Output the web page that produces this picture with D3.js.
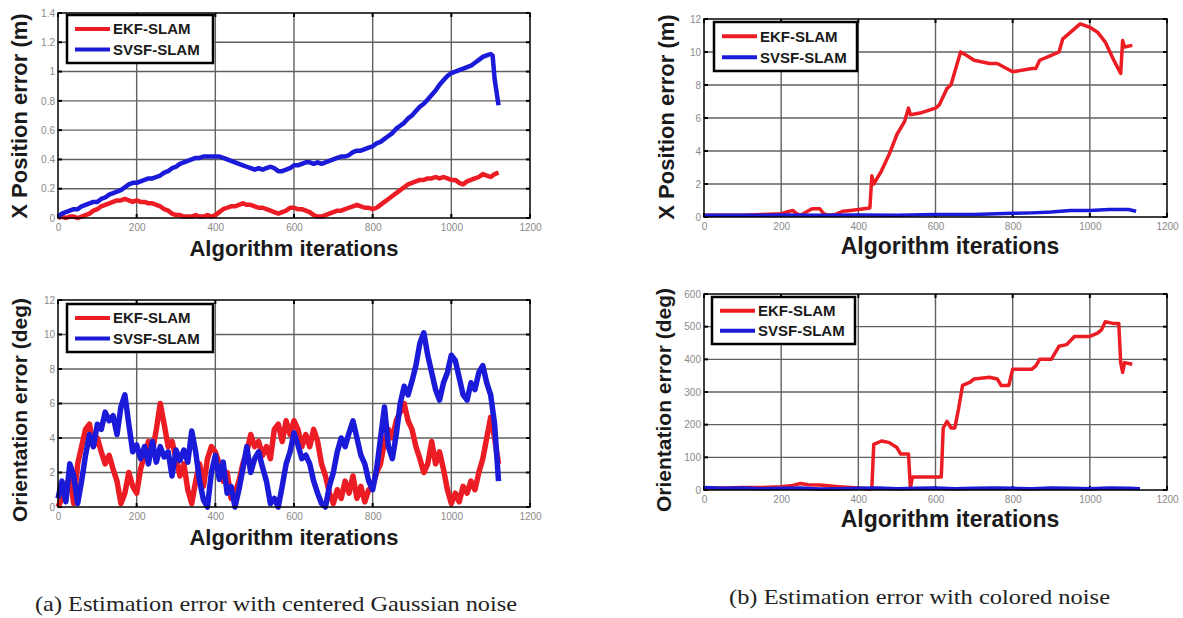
<!DOCTYPE html>
<html>
<head>
<meta charset="utf-8">
<script src="https://cdn.jsdelivr.net/npm/d3@7"></script>
<style>
  body { margin: 0; background: #fff; }
  svg { display: block; }
</style>
</head>
<body>
<div id="chart"></div>
<script>
// axis ticks
const xTicks = [0, 200, 400, 600, 800, 1000, 1200];
const posTicksGauss = [0, 0.2, 0.4, 0.6, 0.8, 1, 1.2, 1.4];
const degTicksGauss = [0, 2, 4, 6, 8, 10, 12];
const posTicksColored = [0, 2, 4, 6, 8, 10, 12];
const degTicksColored = [0, 100, 200, 300, 400, 500, 600];
const seriesNames = ['EKF-SLAM', 'SVSF-SLAM'];
const captions = ['(a) Estimation error with centered Gaussian noise', '(b) Estimation error with colored noise'];

// (a) gaussian noise - X position error (m), [iteration, value]
const ekfPosGauss = [[0,0],[10,0.01],[20,0.0],[30,0.01],[40,0.01],[50,0.0],[60,0.01],[70,0.02],[80,0.03],[90,0.05],[100,0.06],[110,0.08],[120,0.09],[130,0.10],[140,0.11],[150,0.12],[160,0.12],[170,0.13],[180,0.12],[190,0.11],[200,0.12],[210,0.11],[220,0.11],[230,0.10],[240,0.10],[250,0.09],[260,0.08],[270,0.06],[280,0.05],[290,0.03],[300,0.02],[310,0.02],[320,0.01],[330,0.01],[340,0.01],[350,0.02],[360,0.01],[370,0.01],[380,0.02],[390,0.01],[400,0.02],[410,0.04],[420,0.06],[430,0.07],[440,0.08],[450,0.08],[460,0.09],[470,0.10],[480,0.09],[490,0.09],[500,0.08],[510,0.07],[520,0.07],[530,0.06],[540,0.05],[550,0.04],[560,0.03],[570,0.04],[580,0.05],[590,0.07],[600,0.07],[610,0.06],[620,0.06],[630,0.05],[640,0.04],[650,0.02],[660,0.01],[670,0.01],[680,0.02],[690,0.03],[700,0.04],[710,0.05],[720,0.05],[730,0.06],[740,0.07],[750,0.08],[760,0.09],[770,0.08],[780,0.07],[790,0.07],[800,0.06],[810,0.07],[820,0.09],[830,0.11],[840,0.13],[850,0.15],[860,0.17],[870,0.19],[880,0.21],[890,0.23],[900,0.24],[910,0.25],[920,0.26],[930,0.26],[940,0.27],[950,0.27],[960,0.28],[970,0.27],[980,0.28],[990,0.27],[1000,0.26],[1010,0.26],[1020,0.24],[1030,0.23],[1040,0.25],[1050,0.26],[1060,0.27],[1070,0.28],[1080,0.30],[1090,0.29],[1100,0.28],[1110,0.30],[1120,0.31]];
const svsfPosGauss = [[0,0.01],[10,0.03],[20,0.04],[30,0.05],[40,0.06],[50,0.06],[60,0.08],[70,0.09],[80,0.10],[90,0.11],[100,0.11],[110,0.13],[120,0.14],[130,0.16],[140,0.17],[150,0.18],[160,0.19],[170,0.21],[180,0.23],[190,0.24],[200,0.24],[210,0.25],[220,0.26],[230,0.27],[240,0.27],[250,0.28],[260,0.29],[270,0.31],[280,0.32],[290,0.34],[300,0.35],[310,0.37],[320,0.38],[330,0.39],[340,0.40],[350,0.41],[360,0.41],[370,0.42],[380,0.42],[390,0.42],[400,0.42],[410,0.42],[420,0.41],[430,0.40],[440,0.39],[450,0.38],[460,0.37],[470,0.36],[480,0.35],[490,0.34],[500,0.33],[510,0.34],[520,0.33],[530,0.34],[540,0.35],[550,0.34],[560,0.32],[570,0.32],[580,0.33],[590,0.34],[600,0.36],[610,0.36],[620,0.37],[630,0.38],[640,0.38],[650,0.37],[660,0.38],[670,0.37],[680,0.38],[690,0.39],[700,0.40],[710,0.41],[720,0.42],[730,0.42],[740,0.43],[750,0.45],[760,0.46],[770,0.46],[780,0.47],[790,0.48],[800,0.49],[810,0.51],[820,0.52],[830,0.54],[840,0.56],[850,0.58],[860,0.61],[870,0.63],[880,0.65],[890,0.68],[900,0.70],[910,0.73],[920,0.76],[930,0.78],[940,0.81],[950,0.84],[960,0.87],[970,0.91],[980,0.94],[990,0.97],[1000,0.99],[1010,1.00],[1020,1.01],[1030,1.02],[1040,1.03],[1050,1.04],[1060,1.06],[1070,1.08],[1080,1.10],[1090,1.11],[1100,1.12],[1105,1.11],[1110,0.95],[1120,0.77]];

// (a) gaussian noise - orientation error (deg)
const ekfDegGauss = [[0,0.0],[10,0.5],[20,1.0],[30,1.8],[40,0.2],[50,2.5],[60,3.5],[70,4.5],[80,4.8],[90,3.5],[100,4.0],[110,3.2],[120,2.5],[130,3.0],[140,2.2],[150,1.5],[160,0.2],[170,0.8],[180,2.0],[190,1.2],[200,0.8],[210,2.2],[220,3.0],[230,3.8],[240,3.2],[250,4.5],[260,6.0],[270,4.8],[280,3.5],[290,3.8],[300,2.8],[310,1.8],[320,2.5],[330,1.0],[340,0.2],[350,1.5],[360,2.5],[370,1.2],[380,2.8],[390,3.5],[400,3.2],[410,2.5],[420,1.5],[430,2.0],[440,0.5],[450,0.8],[460,1.5],[470,2.5],[480,3.2],[490,4.2],[500,3.5],[510,3.8],[520,3.0],[530,3.5],[540,2.8],[550,4.5],[560,4.8],[570,3.8],[580,5.0],[590,4.2],[600,5.0],[610,4.5],[620,3.5],[630,4.2],[640,3.5],[650,4.5],[660,3.8],[670,2.5],[680,1.8],[690,0.8],[700,0.2],[710,1.0],[720,0.5],[730,1.5],[740,0.8],[750,1.8],[760,0.5],[770,1.2],[780,0.3],[790,1.0],[800,1.2],[810,2.0],[820,2.5],[830,3.8],[840,4.5],[850,4.0],[860,5.0],[870,5.5],[880,6.0],[890,5.0],[900,4.5],[910,3.5],[920,2.8],[930,2.0],[940,2.5],[950,3.8],[960,2.5],[970,3.2],[980,2.2],[990,1.0],[1000,0.2],[1010,0.8],[1020,0.3],[1030,1.2],[1040,0.8],[1050,1.5],[1060,1.0],[1070,2.0],[1080,2.8],[1090,4.0],[1100,5.2],[1110,4.0],[1120,2.5]];
const svsfDegGauss = [[0,0.5],[10,1.5],[20,0.3],[30,2.5],[40,1.8],[50,0.2],[60,1.5],[70,3.0],[80,4.2],[90,3.5],[100,4.8],[110,4.5],[120,5.5],[130,5.0],[140,5.3],[150,4.2],[160,5.8],[170,6.5],[180,4.8],[190,3.2],[200,3.6],[210,2.8],[220,3.5],[230,2.5],[240,3.8],[250,2.6],[260,3.5],[270,2.9],[280,3.2],[290,1.8],[300,3.3],[310,2.7],[320,3.3],[330,2.6],[340,4.4],[350,3.2],[360,1.5],[370,0.4],[380,0.0],[390,2.0],[400,3.0],[410,1.6],[420,2.6],[430,0.8],[440,1.2],[450,0.0],[460,1.0],[470,2.2],[480,3.5],[490,2.0],[500,2.8],[510,3.2],[520,2.3],[530,1.5],[540,0.2],[550,0.5],[560,0.0],[570,1.2],[580,2.5],[590,3.2],[600,4.3],[610,3.6],[620,2.8],[630,3.0],[640,2.5],[650,1.5],[660,0.8],[670,0.2],[680,0.0],[690,1.2],[700,2.0],[710,3.2],[720,4.0],[730,3.5],[740,4.3],[750,5.0],[760,4.0],[770,3.0],[780,2.5],[790,1.5],[800,1.0],[810,2.2],[820,4.0],[830,5.8],[840,3.5],[850,2.8],[860,4.2],[870,6.0],[880,7.0],[890,6.5],[900,7.3],[910,8.2],[920,9.5],[930,10.1],[940,8.8],[950,7.8],[960,6.8],[970,6.2],[980,7.2],[990,7.8],[1000,8.8],[1010,8.5],[1020,7.5],[1030,6.5],[1040,6.2],[1050,7.2],[1060,6.8],[1070,7.8],[1080,8.2],[1090,7.2],[1100,6.5],[1110,4.8],[1120,1.5]];

// (b) colored noise - X position error (m)
const ekfPosColored = [[0,0.1],[50,0.1],[100,0.1],[150,0.15],[200,0.2],[215,0.3],[230,0.4],[240,0.2],[250,0.1],[265,0.3],[280,0.5],[300,0.5],[310,0.2],[325,0.1],[340,0.15],[360,0.35],[380,0.4],[400,0.45],[430,0.55],[435,2.5],[440,2.0],[460,2.8],[480,3.8],[500,5.0],[520,5.8],[530,6.6],[535,6.2],[560,6.3],[600,6.6],[610,6.8],[630,7.8],[640,8.0],[650,8.8],[665,10.0],[680,9.8],[700,9.5],[740,9.3],[760,9.3],[800,8.8],[850,9.0],[860,9.0],[870,9.5],[900,9.8],[920,10.0],[930,10.8],[960,11.4],[975,11.7],[1000,11.5],[1020,11.2],[1040,10.6],[1060,9.6],[1080,8.7],[1085,10.7],[1090,10.3],[1110,10.4]];
const svsfPosColored = [[0,0.1],[100,0.1],[200,0.12],[300,0.1],[400,0.12],[500,0.1],[600,0.15],[700,0.15],[800,0.22],[850,0.25],[900,0.3],[950,0.4],[1000,0.4],[1050,0.45],[1100,0.45],[1120,0.35]];

// (b) colored noise - orientation error (deg)
const ekfDegColored = [[0,5],[50,6],[100,8],[150,8],[200,10],[230,14],[250,20],[270,16],[300,15],[350,10],[400,6],[430,3],[435,5],[440,140],[460,150],[470,148],[480,145],[500,130],[510,110],[530,110],[535,5],[540,40],[600,40],[615,40],[620,190],[630,210],[640,190],[650,190],[660,250],[670,320],[690,330],[700,340],[740,345],[760,340],[770,320],[790,320],[800,370],[850,370],[860,380],[870,400],[900,400],[920,440],[940,445],[960,470],[1000,470],[1020,480],[1030,490],[1040,515],[1060,510],[1075,510],[1080,390],[1085,360],[1090,390],[1110,385]];
const svsfDegColored = [[0,8],[50,5],[100,6],[150,4],[200,5],[250,6],[300,3],[350,4],[400,5],[450,6],[500,4],[550,5],[600,6],[650,4],[700,5],[750,6],[800,5],[850,4],[900,6],[950,5],[1000,4],[1050,6],[1100,5],[1130,4]];

const RED = '#ec1c24';
const BLUE = '#1a1ad8';
const W = 1183, H = 618;

const svg = d3.select('#chart').append('svg')
  .attr('width', W).attr('height', H)
  .attr('viewBox', `0 0 ${W} ${H}`);

function makePanel(p) {
  let x = d3.scaleLinear().domain([0, 1200]).range([p.left, p.right]);
  let y = d3.scaleLinear().domain([0, p.yTicks[p.yTicks.length - 1]]).range([p.bottom, p.top]);
  let g = svg.append('g');

  // grid
  g.selectAll('.vgrid').data(xTicks.slice(1, -1)).enter()
    .append('line')
    .attr('x1', d => x(d)).attr('x2', d => x(d))
    .attr('y1', p.top).attr('y2', p.bottom)
    .attr('stroke', '#606060').attr('stroke-width', 1.4);
  g.selectAll('.hgrid').data(p.yTicks.slice(1, -1)).enter()
    .append('line')
    .attr('y1', d => y(d)).attr('y2', d => y(d))
    .attr('x1', p.left).attr('x2', p.right)
    .attr('stroke', '#606060').attr('stroke-width', 1.4);

  // inward tick marks on every side
  xTicks.forEach(t => {
    g.append('line').attr('x1', x(t)).attr('x2', x(t)).attr('y1', p.bottom).attr('y2', p.bottom - 4).attr('stroke', '#000').attr('stroke-width', 2);
    g.append('line').attr('x1', x(t)).attr('x2', x(t)).attr('y1', p.top).attr('y2', p.top + 4).attr('stroke', '#000').attr('stroke-width', 2);
  });
  p.yTicks.forEach(t => {
    g.append('line').attr('y1', y(t)).attr('y2', y(t)).attr('x1', p.left).attr('x2', p.left + 4).attr('stroke', '#000').attr('stroke-width', 2);
    g.append('line').attr('y1', y(t)).attr('y2', y(t)).attr('x1', p.right).attr('x2', p.right - 4).attr('stroke', '#000').attr('stroke-width', 2);
  });

  // tick labels via axes
  let xAxis = g.append('g')
    .attr('transform', `translate(0,${p.bottom})`)
    .call(d3.axisBottom(x).tickValues(xTicks).tickSize(0).tickPadding(6).tickFormat(d3.format('d')));
  let yAxis = g.append('g')
    .attr('transform', `translate(${p.left},0)`)
    .call(d3.axisLeft(y).tickValues(p.yTicks).tickSize(0).tickPadding(3).tickFormat(d => String(d)));
  [xAxis, yAxis].forEach(a => {
    a.select('.domain').remove();
    a.selectAll('text')
      .style('font-family', 'Liberation Sans, Arial, sans-serif')
      .style('font-size', '10px')
      .attr('fill', '#8a8a8a');
  });

  // series
  let line = d3.line().x(d => x(d[0])).y(d => y(d[1]));
  g.append('path').datum(p.ekf).attr('d', line)
    .attr('fill', 'none').attr('stroke', RED).attr('stroke-width', p.lw)
    .attr('stroke-linejoin', 'round');
  g.append('path').datum(p.svsf).attr('d', line)
    .attr('fill', 'none').attr('stroke', BLUE).attr('stroke-width', p.lw)
    .attr('stroke-linejoin', 'round');

  // frame
  g.append('rect')
    .attr('x', p.left).attr('y', p.top)
    .attr('width', p.right - p.left).attr('height', p.bottom - p.top)
    .attr('fill', 'none').attr('stroke', '#000').attr('stroke-width', 1.5);

  // legend
  let lg = g.append('g').attr('transform', `translate(${p.legend[0]},${p.legend[1]})`);
  lg.append('rect').attr('width', p.legend[2]).attr('height', p.legend[3])
    .attr('fill', '#fff').attr('stroke', '#000').attr('stroke-width', 2.5);
  [RED, BLUE].forEach((c, i) => {
    let ry = p.legend[3] * (i === 0 ? 0.29 : 0.72);
    lg.append('line').attr('x1', 8).attr('x2', 43).attr('y1', ry).attr('y2', ry)
      .attr('stroke', c).attr('stroke-width', 4);
    lg.append('text').attr('x', 46).attr('y', ry).attr('dy', '0.36em')
      .style('font-family', 'Liberation Sans, Arial, sans-serif')
      .style('font-size', '15px').style('font-weight', 'bold')
      .attr('fill', '#1a1a1a')
      .text(seriesNames[i]);
  });

  // axis titles
  g.append('text')
    .attr('x', p.xTitleX).attr('y', p.xTitleY).attr('dy', '0.36em')
    .attr('text-anchor', 'middle')
    .style('font-family', 'Liberation Sans, Arial, sans-serif')
    .style('font-size', p.titleSize + 'px').style('font-weight', 'bold')
    .attr('fill', '#1a1a1a')
    .text('Algorithm iterations');
  g.append('text')
    .attr('transform', `translate(${p.yTitleX},${p.yTitleY}) rotate(-90)`)
    .attr('dy', '0.36em')
    .attr('text-anchor', 'middle')
    .style('font-family', 'Liberation Sans, Arial, sans-serif')
    .style('font-size', p.yTitleSize + 'px').style('font-weight', 'bold')
    .attr('fill', '#1a1a1a')
    .text(p.yTitle);
}

makePanel({
  left: 58, right: 530, top: 13, bottom: 218, yTicks: posTicksGauss,
  ekf: ekfPosGauss, svsf: svsfPosGauss, lw: 4.5,
  legend: [67, 15, 146, 48],
  xTitleX: 294, xTitleY: 248, titleSize: 22,
  yTitle: 'X Position error (m)', yTitleX: 19, yTitleY: 116, yTitleSize: 22
});
makePanel({
  left: 58, right: 530, top: 300, bottom: 507, yTicks: degTicksGauss,
  ekf: ekfDegGauss, svsf: svsfDegGauss, lw: 5.5,
  legend: [67, 304, 146, 48],
  xTitleX: 294, xTitleY: 537, titleSize: 22,
  yTitle: 'Orientation error (deg)', yTitleX: 19, yTitleY: 410, yTitleSize: 21
});
makePanel({
  left: 704, right: 1167, top: 19, bottom: 217, yTicks: posTicksColored,
  ekf: ekfPosColored, svsf: svsfPosColored, lw: 3.5,
  legend: [714, 22, 143, 49],
  xTitleX: 950, xTitleY: 246, titleSize: 23,
  yTitle: 'X Position error (m)', yTitleX: 666, yTitleY: 117, yTitleSize: 22
});
makePanel({
  left: 704, right: 1167, top: 294, bottom: 490, yTicks: degTicksColored,
  ekf: ekfDegColored, svsf: svsfDegColored, lw: 3.5,
  legend: [712, 297, 143, 47],
  xTitleX: 950, xTitleY: 519, titleSize: 23,
  yTitle: 'Orientation error (deg)', yTitleX: 663, yTitleY: 400, yTitleSize: 21
});

// captions
svg.append('text').attr('x', 35).attr('y', 611)
  .style('font-family', 'Liberation Serif, serif').style('font-size', '21px')
  .attr('fill', '#222')
  .attr('textLength', 482).attr('lengthAdjust', 'spacingAndGlyphs')
  .text(captions[0]);
svg.append('text').attr('x', 729).attr('y', 604)
  .style('font-family', 'Liberation Serif, serif').style('font-size', '21px')
  .attr('fill', '#222')
  .attr('textLength', 381).attr('lengthAdjust', 'spacingAndGlyphs')
  .text(captions[1]);
</script>
</body>
</html>
